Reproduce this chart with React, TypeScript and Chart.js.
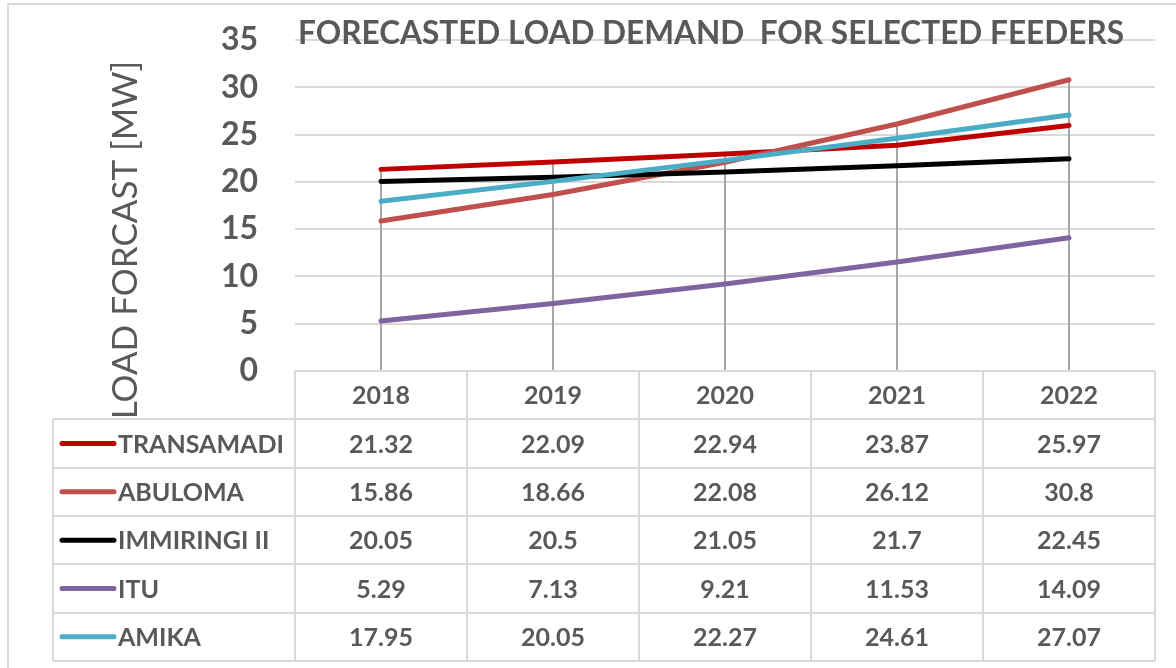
import React, { useEffect, useRef } from "react";
import { Chart, registerables } from "chart.js";

Chart.register(...registerables);

const years = ["2018", "2019", "2020", "2021", "2022"];
const seriesNames = ["TRANSAMADI", "ABULOMA", "IMMIRINGI II", "ITU", "AMIKA"];
const transamadi = [21.32, 22.09, 22.94, 23.87, 25.97];
const abuloma = [15.86, 18.66, 22.08, 26.12, 30.8];
const immiringi = [20.05, 20.5, 21.05, 21.7, 22.45];
const itu = [5.29, 7.13, 9.21, 11.53, 14.09];
const amika = [17.95, 20.05, 22.27, 24.61, 27.07];
const seriesColors = ["#c00000", "#c0504d", "#000000", "#8064a2", "#4bacc6"];
const yMin = 0;
const yMax = 35;
const yStep = 5;
const chartTitle = "FORECASTED LOAD DEMAND  FOR SELECTED FEEDERS";
const axisTitle = "LOAD FORCAST [MW]";

const seriesValues = [transamadi, abuloma, immiringi, itu, amika];

const TEXT = "#595959";
const GRID = "#d9d9d9";
const FONT = "Lato, 'Open Sans', sans-serif";

const dropLinesPlugin = {
  id: "dropLines",
  beforeDatasetsDraw(chart: any) {
    const { ctx, chartArea } = chart;
    ctx.save();
    ctx.strokeStyle = "#a6a6a6";
    ctx.lineWidth = 2;
    years.forEach((_, i) => {
      let minY = Infinity;
      let x = 0;
      chart.data.datasets.forEach((_d: any, di: number) => {
        const p = chart.getDatasetMeta(di).data[i];
        if (p && p.y < minY) {
          minY = p.y;
          x = p.x;
        }
      });
      ctx.beginPath();
      ctx.moveTo(Math.round(x), minY);
      ctx.lineTo(Math.round(x), chartArea.bottom);
      ctx.stroke();
    });
    ctx.restore();
  },
};

const tablePlugin = {
  id: "dataTable",
  afterDraw(chart: any) {
    const { ctx, chartArea } = chart;
    const xs = chart.scales.x;
    const n = years.length;
    const colW = (chartArea.right - chartArea.left) / n;
    const top = chartArea.bottom;
    const bottom = 661;
    const rows = seriesNames.length + 1;
    const rowH = (bottom - top) / rows;
    const legendLeft = 53;

    ctx.save();
    ctx.strokeStyle = GRID;
    ctx.lineWidth = 2;
    ctx.beginPath();
    ctx.moveTo(chartArea.left, top);
    ctx.lineTo(chartArea.right, top);
    ctx.stroke();
    for (let r = 1; r <= rows; r++) {
      const y = Math.round(top + r * rowH);
      ctx.beginPath();
      ctx.moveTo(legendLeft, y);
      ctx.lineTo(chartArea.right, y);
      ctx.stroke();
    }
    ctx.beginPath();
    ctx.moveTo(legendLeft, top + rowH);
    ctx.lineTo(legendLeft, bottom);
    ctx.stroke();
    for (let k = 0; k <= n; k++) {
      const x = Math.round(chartArea.left + k * colW);
      ctx.beginPath();
      ctx.moveTo(x, top);
      ctx.lineTo(x, bottom);
      ctx.stroke();
    }

    ctx.fillStyle = TEXT;
    ctx.font = `bold 25px ${FONT}`;
    ctx.textAlign = "center";
    ctx.textBaseline = "middle";
    years.forEach((yr, i) => {
      const cx = xs.getPixelForValue(i);
      ctx.fillText(yr, cx, top + rowH / 2 + 1);
    });
    seriesNames.forEach((name, s) => {
      const cy = top + (s + 1) * rowH + rowH / 2 + 1;
      seriesValues[s].forEach((v, i) => {
        const cx = xs.getPixelForValue(i);
        ctx.textAlign = "center";
        ctx.fillText(String(v), cx, cy);
      });
      ctx.strokeStyle = seriesColors[s];
      ctx.lineWidth = 5;
      ctx.lineCap = "round";
      ctx.beginPath();
      ctx.moveTo(62, cy - 1);
      ctx.lineTo(114, cy - 1);
      ctx.stroke();
      ctx.textAlign = "left";
      ctx.fillText(name, 118, cy);
    });

    ctx.save();
    ctx.translate(126, 240);
    ctx.rotate(-Math.PI / 2);
    ctx.font = `35px ${FONT}`;
    ctx.textAlign = "center";
    ctx.textBaseline = "middle";
    ctx.fillStyle = TEXT;
    ctx.fillText(axisTitle, 0, 0);
    ctx.restore();

    ctx.save();
    ctx.font = `bold 32px ${FONT}`;
    ctx.textAlign = "left";
    ctx.textBaseline = "alphabetic";
    ctx.fillStyle = TEXT;
    const w = ctx.measureText(chartTitle).width;
    const target = 826;
    const sx = Math.min(1, target / w);
    ctx.translate(298, 44);
    ctx.scale(sx, 1);
    ctx.fillText(chartTitle, 0, 0);
    ctx.restore();

    ctx.restore();
  },
};

export default function App() {
  const ref = useRef<HTMLCanvasElement | null>(null);

  useEffect(() => {
    if (!ref.current) return;
    const chart = new Chart(ref.current, {
      type: "line",
      data: {
        labels: years,
        datasets: seriesNames.map((name, i) => ({
          label: name,
          data: seriesValues[i],
          borderColor: seriesColors[i],
          backgroundColor: seriesColors[i],
          borderWidth: 5,
          borderCapStyle: "round" as const,
          pointRadius: 0,
          tension: 0,
          order: seriesNames.length - 1 - i,
        })),
      },
      options: {
        responsive: false,
        animation: false,
        layout: { padding: { left: 0, right: 21, top: 40, bottom: 297 } },
        plugins: {
          legend: { display: false },
          title: { display: false },
          tooltip: { enabled: false },
        },
        scales: {
          x: {
            type: "category",
            display: false,
            offset: true,
          },
          y: {
            min: yMin,
            max: yMax,
            border: { display: false },
            grid: { color: GRID, lineWidth: 2, drawTicks: false },
            ticks: {
              stepSize: yStep,
              padding: 37,
              color: TEXT,
              font: { family: FONT, size: 32, weight: "bold" },
            },
            afterFit(scale: any) {
              scale.width = 295;
              scale.paddingTop = 0;
              scale.paddingBottom = 0;
            },
          },
        },
      },
      plugins: [dropLinesPlugin, tablePlugin],
    });
    return () => chart.destroy();
  }, []);

  return (
    <div
      style={{
        position: "absolute",
        left: 0,
        top: 0,
        width: 1176,
        height: 668,
        overflow: "hidden",
        background: "#fff",
      }}
    >
      <div
        style={{
          position: "absolute",
          left: 7,
          top: 3,
          width: 1300,
          height: 800,
          border: "2px solid #d9d9d9",
          boxSizing: "border-box",
        }}
      />
      <canvas
        ref={ref}
        width={1176}
        height={668}
        style={{ position: "absolute", left: 0, top: 0 }}
      />
    </div>
  );
}
